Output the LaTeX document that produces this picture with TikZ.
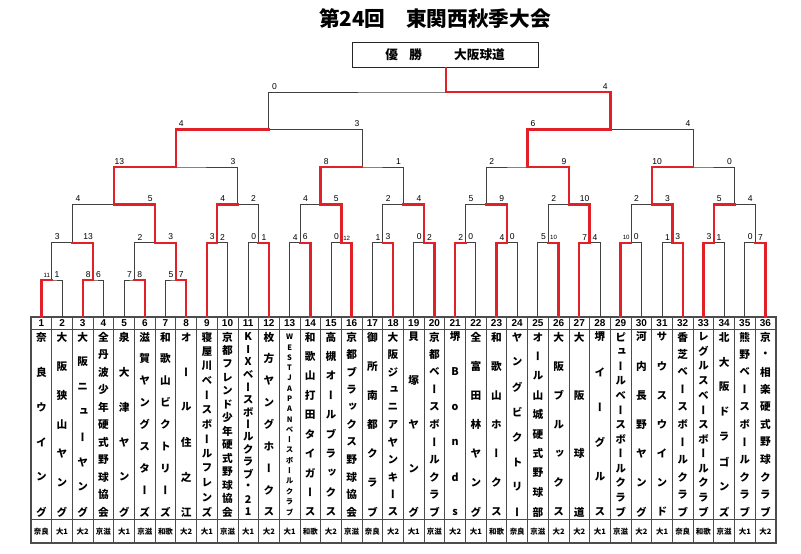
\documentclass[tikz,border=0pt]{standalone}
\usepackage{fontspec}
\setmainfont{Liberation Sans}
\newfontfamily\jpfont{Noto Sans CJK JP}
\newfontfamily\jpvfont{Noto Sans CJK JP}[RawFeature=+vert]
\usetikzlibrary{calc}
\definecolor{winred}{RGB}{226,32,40}
\pgfdeclarelayer{winlayer}
\pgfsetlayers{main,winlayer}
\newcommand{\smsc}{\fontsize{4.6}{5}\selectfont}
\newcommand{\bout}[7]{%
  \path ($(#2)!.5!(#3)$) coordinate (#1h);
  \coordinate (#1) at (#1h |- 0,#4);
  \draw[loser] (#2) |- (#1) -| (#3);
  \begin{pgfonlayer}{winlayer}
    \draw[winner] (#5) |- (#1);
  \end{pgfonlayer}
  \node[score] (#1l) at ($(#2 |- #1)+(5.5,-2.5)$) {#6};
  \node[score] (#1r) at ($(#3 |- #1)+(-5,-2.5)$) {#7};
}

\begin{document}
\begin{tikzpicture}[x=0.75pt, y=-0.75pt,
    loser/.style={draw=black!75, line width=0.7pt},
    winner/.style={draw=winred, line width=1.8pt, line cap=rect},
    score/.style={anchor=south, inner sep=0pt, font=\fontsize{6.4}{7}\selectfont},
    tab/.style={draw=black!70, line width=0.6pt},
    num/.style={inner sep=0pt, font=\fontsize{7.5}{8}\selectfont\bfseries},
    reg/.style={inner sep=0pt, font=\jpfont\bfseries\fontsize{5.6}{6}\selectfont},
    ch/.style={inner sep=0pt, font=\jpvfont\bfseries\fontsize{8}{8}\selectfont},
    champ/.style={draw=black!85, line width=1pt, minimum width=139.5pt, minimum height=18.75pt},
    boxtxt/.style={inner sep=0pt, font=\jpfont\bfseries\fontsize{9.5}{10}\selectfont}]
    \useasboundingbox (0,0) rectangle (801,554);

    \node[inner sep=0pt, font=\jpfont\bfseries\fontsize{15.5}{16}\selectfont] (title) at (435,18.5) {第24回　東関西秋季大会};

    \node[champ] (champ) at (445.7,54.8) {};
    \node[boxtxt] (yu) at (391.7,55) {優};
    \node[boxtxt] (sho) at (415.7,55) {勝};
    \node[boxtxt] (champname) at (479.5,55) {大阪球道};

    \draw[tab, line width=0.8pt] (31,317) rectangle (776,543);
    \draw[tab] (31,329) -- (776,329);
    \draw[tab] (31,519.3) -- (776,519.3);
    \foreach \k in {1,...,35}
        \draw[tab] ({31+20.69*\k},317) -- ({31+20.69*\k},543);

    \foreach \i/\nm/\rg in {
        1/{奈,良,ウ,イ,ン,グ}/奈良,
        2/{大,阪,狭,山,ヤ,ン,グ}/大1,
        3/{大,阪,ニ,ュ,ー,ヤ,ン,グ}/大2,
        4/{全,丹,波,少,年,硬,式,野,球,協,会}/京滋,
        5/{泉,大,津,ヤ,ン,グ}/大1,
        6/{滋,賀,ヤ,ン,グ,ス,タ,ー,ズ}/京滋,
        7/{和,歌,山,ビ,ク,ト,リ,ー,ズ}/和歌,
        8/{オ,ー,ル,住,之,江}/大2,
        9/{寝,屋,川,ベ,ー,ス,ボ,ー,ル,フ,レ,ン,ズ}/大1,
        10/{京,都,フ,レ,ン,ド,少,年,硬,式,野,球,協,会}/京滋,
        11/{K,I,X,ベ,ー,ス,ボ,ー,ル,ク,ラ,ブ,・,2,1}/大1,
        12/{枚,方,ヤ,ン,グ,ホ,ー,ク,ス}/大2,
        13/{W,E,S,T,J,A,P,A,N,ベ,ー,ス,ボ,ー,ル,ク,ラ,ブ}/大1,
        14/{和,歌,山,打,田,タ,イ,ガ,ー,ス}/和歌,
        15/{高,槻,オ,ー,ル,ブ,ラ,ッ,ク,ス}/大2,
        16/{京,都,ブ,ラ,ッ,ク,ス,野,球,協,会}/京滋,
        17/{御,所,南,都,ク,ラ,ブ}/奈良,
        18/{大,阪,ジ,ュ,ニ,ア,ヤ,ン,キ,ー,ス}/大2,
        19/{貝,塚,ヤ,ン,グ}/大1,
        20/{京,都,ベ,ー,ス,ボ,ー,ル,ク,ラ,ブ}/京滋,
        21/{堺,B,o,n,d,s}/大2,
        22/{全,富,田,林,ヤ,ン,グ}/大1,
        23/{和,歌,山,ホ,ー,ク,ス}/和歌,
        24/{ヤ,ン,グ,ビ,ク,ト,リ,ー}/奈良,
        25/{オ,ー,ル,山,城,硬,式,野,球,部}/京滋,
        26/{大,阪,ブ,ル,ッ,ク,ス}/大2,
        27/{大,阪,球,道}/大2,
        28/{堺,イ,ー,グ,ル,ス}/大1,
        29/{ピ,ュ,ー,ル,ベ,ー,ス,ボ,ー,ル,ク,ラ,ブ}/京滋,
        30/{河,内,長,野,ヤ,ン,グ}/大2,
        31/{サ,ウ,ス,ウ,イ,ン,ド}/大1,
        32/{香,芝,ベ,ー,ス,ボ,ー,ル,ク,ラ,ブ}/奈良,
        33/{レ,グ,ル,ス,ベ,ー,ス,ボ,ー,ル,ク,ラ,ブ}/和歌,
        34/{北,大,阪,ド,ラ,ゴ,ン,ズ}/京滋,
        35/{熊,野,ベ,ー,ス,ボ,ー,ル,ク,ラ,ブ}/大1,
        36/{京,・,相,楽,硬,式,野,球,ク,ラ,ブ}/大2} {
        \coordinate (t\i) at ({31+20.69*(\i-0.5)},317);
        \node[num] (c\i) at ({31+20.69*(\i-0.5)},323.2) {\i};
        \node[reg] (r\i) at ({31+20.69*(\i-0.5)},531.3) {\rg};
        \foreach \c [count=\k] in \nm {\xdef\nch{\k}}
        \foreach \c [count=\k] in \nm
            \node[ch] (n\i-\k) at ({31+20.69*(\i-0.5)},{337+(\k-1)*175/(\nch-1)}) {\ifnum\nch>16 \fontsize{5.6}{6}\selectfont\fi\c};
    }

    \bout{a1}{t1}{t2}{280}{t1}{\smsc 11}{1}
    \bout{a2}{t3}{t4}{280}{t3}{8}{6}
    \bout{a3}{t5}{t6}{280}{t6}{7}{8}
    \bout{a4}{t7}{t8}{280}{t8}{5}{7}

    \bout{b1}{a1}{a2}{242.8}{a2}{3}{13}
    \bout{b2}{a3}{a4}{242.8}{a4}{2}{3}
    \bout{b3}{t9}{t10}{242.8}{t9}{3}{2}
    \bout{b4}{t11}{t12}{242.8}{t12}{0}{1}
    \bout{b5}{t13}{t14}{242.8}{t14}{4}{6}
    \bout{b6}{t15}{t16}{242.8}{t16}{0}{\smsc 12}
    \bout{b7}{t17}{t18}{242.8}{t18}{1}{3}
    \bout{b8}{t19}{t20}{242.8}{t20}{0}{2}
    \bout{b9}{t21}{t22}{242.8}{t21}{2}{0}
    \bout{b10}{t23}{t24}{242.8}{t23}{4}{0}
    \bout{b11}{t25}{t26}{242.8}{t26}{5}{\smsc 10}
    \bout{b12}{t27}{t28}{242.8}{t27}{7}{4}
    \bout{b13}{t29}{t30}{242.8}{t29}{\smsc 10}{0}
    \bout{b14}{t31}{t32}{242.8}{t32}{1}{3}
    \bout{b15}{t33}{t34}{242.8}{t33}{3}{1}
    \bout{b16}{t35}{t36}{242.8}{t36}{0}{7}

    \bout{c1}{b1}{b2}{204.3}{b2}{4}{5}
    \bout{c2}{b3}{b4}{204.3}{b3}{4}{2}
    \bout{c3}{b5}{b6}{204.3}{b6}{4}{5}
    \bout{c4}{b7}{b8}{204.3}{b8}{2}{4}
    \bout{c5}{b9}{b10}{204.3}{b10}{5}{9}
    \bout{c6}{b11}{b12}{204.3}{b12}{2}{10}
    \bout{c7}{b13}{b14}{204.3}{b14}{2}{3}
    \bout{c8}{b15}{b16}{204.3}{b15}{5}{4}

    \bout{d1}{c1}{c2}{167}{c1}{13}{3}
    \bout{d2}{c3}{c4}{167}{c3}{8}{1}
    \bout{d3}{c5}{c6}{167}{c6}{2}{9}
    \bout{d4}{c7}{c8}{167}{c7}{10}{0}

    \bout{e1}{d1}{d2}{129.5}{d1}{4}{3}
    \bout{e2}{d3}{d4}{129.5}{d3}{6}{4}

    \coordinate (f) at (champ.south |- 0,92);
    \draw[loser] (e1) |- (f) -| (e2);
    \begin{pgfonlayer}{winlayer}
        \draw[winner] (e2) |- (f) -- (champ.south);
    \end{pgfonlayer}
    \node[score] (fl) at ($(e1 |- f)+(5.5,-2.5)$) {0};
    \node[score] (fr) at ($(e2 |- f)+(-5,-2.5)$) {4};
\end{tikzpicture}
\end{document}
